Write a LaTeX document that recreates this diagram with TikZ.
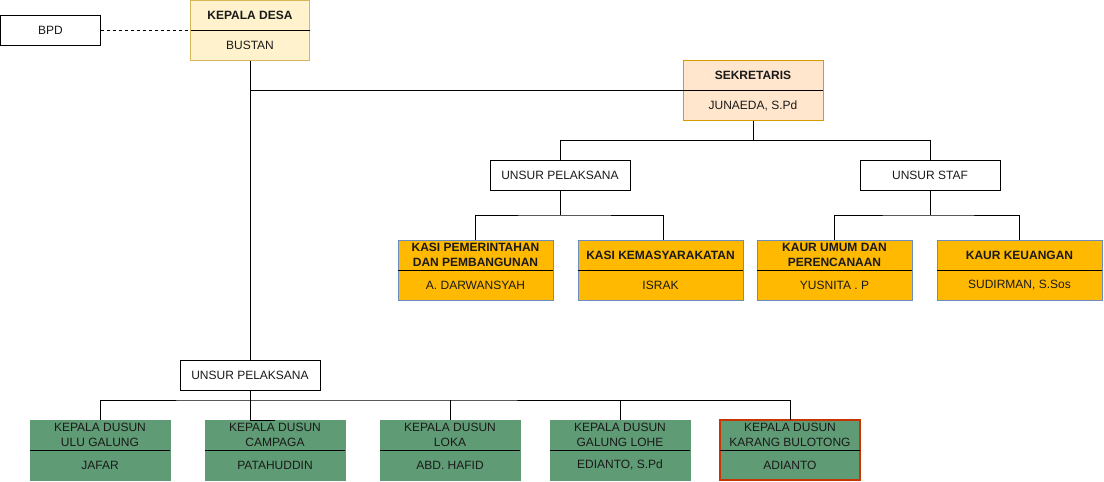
\documentclass[tikz,border=0pt]{standalone}
\usepackage{fontspec}
\setmainfont{Liberation Sans}
\usetikzlibrary{calc}
\definecolor{kdfill}{HTML}{FFF2CC}
\definecolor{kdline}{HTML}{D6B656}
\definecolor{skfill}{HTML}{FFE6CC}
\definecolor{skline}{HTML}{D79B00}
\definecolor{kafill}{HTML}{FFB900}
\definecolor{kaline}{HTML}{6C8EBF}
\definecolor{dsfill}{HTML}{5F9B74}
\definecolor{redline}{HTML}{C73500}
\definecolor{txt}{HTML}{1A1A1A}
\tikzset{
  base/.style={draw, line width=1pt, inner sep=0pt, outer sep=0pt},
  plain/.style={base, fill=white, draw=black, minimum height=30, text=txt,
    font=\fontsize{12}{14.4}\selectfont},
  kdbox/.style={base, fill=kdfill, draw=kdline},
  skbox/.style={base, fill=skfill, draw=skline},
  kabox/.style={base, fill=kafill, draw=kaline},
  dsbox/.style={base, fill=dsfill, draw=dsfill},
  dsred/.style={base, fill=dsfill, draw=redline, line width=1.3pt},
  divider/.style={draw=black, line width=1pt},
  hdrb/.style={inner sep=0pt, align=center, text=txt, font=\fontsize{12}{14.6}\selectfont\bfseries},
  hdrn/.style={inner sep=0pt, align=center, text=txt, font=\fontsize{12}{14.6}\selectfont},
  subt/.style={inner sep=0pt, align=center, text=txt, font=\fontsize{12}{14.4}\selectfont},
  link/.style={draw=black, line width=1pt},
}
% name, cx, top, width, box style, header style, header, sub
\newcommand\orgbox[8]{%
  \node[#5, minimum width=#4, minimum height=60, anchor=north] (#1) at (#2,#3) {};
  \draw[divider] (#1.west) -- (#1.east);
  \node[#6] (#1-h) at ($(#1.north)!0.25!(#1.south)$) {#7};
  \node[subt] (#1-s) at ($(#1.north)!0.75!(#1.south)$) {#8};
}
\begin{document}
\begin{tikzpicture}[x=1pt,y=-1pt]
\useasboundingbox (0,0) rectangle (1104,482);

% top level
\node[plain, minimum width=100] (bpd) at (50.5,30.5) {BPD};
\orgbox{kd}{250}{0.5}{119}{kdbox}{hdrb}{KEPALA DESA}{BUSTAN}
\orgbox{sek}{753}{60.5}{140}{skbox}{hdrb}{SEKRETARIS}{JUNAEDA, S.Pd}

\node[plain, minimum width=140] (up1) at (560,175) {UNSUR PELAKSANA};
\node[plain, minimum width=140] (us) at (930,175) {UNSUR STAF};

\orgbox{k1}{475.5}{240}{155}{kabox}{hdrb}{KASI PEMERINTAHAN\\DAN PEMBANGUNAN}{A. DARWANSYAH}
\orgbox{k2}{660.5}{240}{165}{kabox}{hdrb}{KASI KEMASYARAKATAN}{ISRAK}
\orgbox{k3}{834.5}{240}{155}{kabox}{hdrb}{KAUR UMUM DAN\\PERENCANAAN}{YUSNITA . P}
\orgbox{k4}{1019.5}{240}{165}{kabox}{hdrb}{KAUR KEUANGAN}{SUDIRMAN, S.Sos}

\node[plain, minimum width=140] (up2) at (250,375) {UNSUR PELAKSANA};

\orgbox{d1}{100}{420}{140}{dsbox}{hdrn}{KEPALA DUSUN\\ULU GALUNG}{JAFAR}
\orgbox{d2}{275}{420}{140}{dsbox}{hdrn}{KEPALA DUSUN\\CAMPAGA}{PATAHUDDIN}
\orgbox{d3}{450}{420}{140}{dsbox}{hdrn}{KEPALA DUSUN\\LOKA}{ABD. HAFID}
\orgbox{d4}{620}{420}{140}{dsbox}{hdrn}{KEPALA DUSUN\\GALUNG LOHE}{EDIANTO, S.Pd}
\orgbox{d5}{790}{420}{140}{dsred}{hdrn}{KEPALA DUSUN\\KARANG BULOTONG}{ADIANTO}

% connectors
\draw[link, dashed, dash pattern=on 3pt off 3pt] (bpd.east) -- (bpd.east -| kd.west);
\draw[link] (kd.south) -- (up2.north);
\coordinate (j1) at (kd.south |- sek.west);
\draw[link] (j1) -- (sek.west);

\coordinate (b1) at ($(sek.south)+(0,20)$);
\draw[link] (sek.south) -- (b1);
\draw[link] (up1.north) |- (b1) -| (us.north);

\coordinate (b2) at ($(up1.south)+(0,25)$);
\draw[link] (up1.south) -- (b2);
\draw[link] (k1.north) |- (b2) -| ([xshift=2.5pt]k2.north);

\coordinate (b3) at ($(us.south)+(0,25)$);
\draw[link] (us.south) -- (b3);
\draw[link] (k3.north) |- (b3) -| (k4.north);

\coordinate (b4) at ($(up2.south)+(0,10)$);
\draw[link] (up2.south) -- (up2.south |- d2.north) -- (d2.north);
\draw[link] (d1.north) |- (b4) -| (d5.north);
\draw[link] (d3.north) -- (d3.north |- b4);
\draw[link] (d4.north) -- (d4.north |- b4);
\end{tikzpicture}
\end{document}
